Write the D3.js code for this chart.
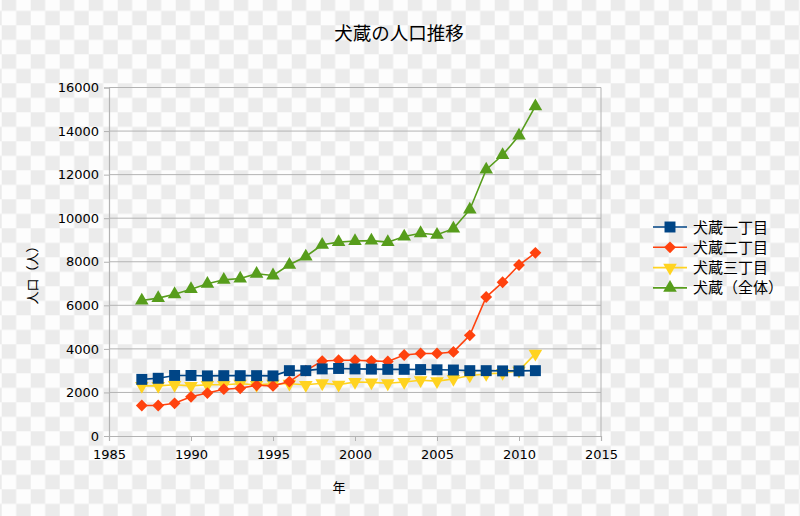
<!DOCTYPE html>
<html>
<head>
<meta charset="utf-8">
<script src="https://cdn.jsdelivr.net/npm/d3@7"></script>
<style>
    body { margin: 0; padding: 0; }
    svg { display: block; }
</style>
</head>
<body>
<div id="chart"></div>
<script>
// データ（年ごとの人口）
var years = [1987, 1988, 1989, 1990, 1991, 1992, 1993, 1994, 1995, 1996, 1997, 1998, 1999,
    2000, 2001, 2002, 2003, 2004, 2005, 2006, 2007, 2008, 2009, 2010, 2011];
var itchome = [2600, 2650, 2780, 2780, 2760, 2770, 2770, 2770, 2760, 3000, 3000, 3080, 3100,
    3080, 3070, 3060, 3060, 3050, 3040, 3030, 3000, 3000, 2990, 2990, 3000];
var nichome = [1400, 1400, 1500, 1800, 1970, 2150, 2190, 2330, 2300, 2500, 3000, 3440, 3480,
    3480, 3450, 3420, 3720, 3790, 3790, 3860, 4620, 6380, 7060, 7850, 8410];
var sanchome = [2300, 2300, 2350, 2300, 2350, 2350, 2400, 2350, 2400, 2400, 2350, 2420, 2360,
    2480, 2460, 2420, 2480, 2560, 2520, 2620, 2780, 2850, 2900, 3000, 3780];
var zentai = [6220, 6330, 6510, 6740, 6990, 7170, 7230, 7450, 7370, 7860, 8240, 8780, 8900,
    8950, 8970, 8900, 9160, 9310, 9240, 9520, 10390, 12230, 12900, 13790, 15140];
var seriesNames = ["犬蔵一丁目", "犬蔵二丁目", "犬蔵三丁目", "犬蔵（全体）"];
var xTicks = [1985, 1990, 1995, 2000, 2005, 2010, 2015];
var yTicks = [0, 2000, 4000, 6000, 8000, 10000, 12000, 14000, 16000];

var width = 800, height = 516;
var plotL = 109, plotR = 601, plotT = 87.5, plotB = 436;
var font = "'DejaVu Sans', sans-serif";
var cjk = "'Noto Sans CJK JP', sans-serif";

var series = [
    {name: seriesNames[0], values: itchome, color: "#004586", symbol: d3.symbolSquare, size: 120, rot: 0},
    {name: seriesNames[1], values: nichome, color: "#ff420e", symbol: d3.symbolSquare, size: 70, rot: 45},
    {name: seriesNames[2], values: sanchome, color: "#ffd320", symbol: d3.symbolTriangle, size: 80, rot: 180},
    {name: seriesNames[3], values: zentai, color: "#579d1c", symbol: d3.symbolTriangle, size: 80, rot: 0}
];

var svg = d3.select("#chart").append("svg")
    .attr("width", width).attr("height", height);

// 背景の市松模様
var cell = 14.5;
var pat = svg.append("defs").append("pattern")
    .attr("id", "checker").attr("patternUnits", "userSpaceOnUse")
    .attr("x", 1.7).attr("y", -3.7)
    .attr("width", cell * 2).attr("height", cell * 2);
pat.append("rect").attr("width", cell * 2).attr("height", cell * 2).attr("fill", "#fdfdfd");
pat.append("rect").attr("width", cell).attr("height", cell).attr("fill", "#ebebeb");
pat.append("rect").attr("x", cell).attr("y", cell).attr("width", cell).attr("height", cell).attr("fill", "#ebebeb");
svg.append("rect").attr("width", width).attr("height", height).attr("fill", "url(#checker)");

var x = d3.scaleLinear().domain([1985, 2015]).range([plotL, plotR]);
var y = d3.scaleLinear().domain([0, 16000]).range([plotB, plotT]);

// グリッド線
svg.append("g").selectAll("line").data(yTicks.slice(1)).enter().append("line")
    .attr("x1", plotL).attr("x2", plotR)
    .attr("y1", function (d) { return y(d); }).attr("y2", function (d) { return y(d); })
    .attr("stroke", "#b3b3b3").attr("stroke-width", 1);
svg.append("line").attr("x1", plotR).attr("x2", plotR).attr("y1", plotT).attr("y2", plotB)
    .attr("stroke", "#b3b3b3");

// 軸
var yAxis = svg.append("g").attr("transform", "translate(" + plotL + ",0)")
    .call(d3.axisLeft(y).tickValues(yTicks).tickSize(5).tickPadding(5).tickFormat(d3.format("d")));
var xAxis = svg.append("g").attr("transform", "translate(0," + plotB + ")")
    .call(d3.axisBottom(x).tickValues(xTicks).tickSize(5).tickPadding(9).tickFormat(d3.format("d")));
[xAxis, yAxis].forEach(function (g) {
    g.select(".domain").attr("stroke", "#b3b3b3").attr("stroke-width", 1.2);
    g.selectAll(".tick line").attr("stroke", "#b3b3b3");
    g.selectAll("text").attr("font-family", font).attr("font-size", 13).attr("fill", "#000");
});

// 折れ線とマーカー（一丁目が最前面）
var line = d3.line()
    .x(function (d, i) { return x(years[i]); })
    .y(function (d) { return y(d); });
series.slice().reverse().forEach(function (s) {
    var g = svg.append("g");
    g.append("path").datum(s.values).attr("d", line)
        .attr("fill", "none").attr("stroke", s.color).attr("stroke-width", 1.6);
    g.selectAll("path.m").data(s.values).enter().append("path").attr("class", "m")
        .attr("d", d3.symbol().type(s.symbol).size(s.size))
        .attr("transform", function (d, i) {
            return "translate(" + x(years[i]) + "," + y(d) + ") rotate(" + s.rot + ")";
        })
        .attr("fill", s.color);
});

// タイトル・軸ラベル
svg.append("text").attr("x", 399).attr("y", 40).attr("text-anchor", "middle")
    .attr("font-family", cjk).attr("font-size", 18.5).text("犬蔵の人口推移");
svg.append("text").attr("x", 339).attr("y", 492).attr("text-anchor", "middle")
    .attr("font-family", cjk).attr("font-size", 13).text("年");
svg.append("text").attr("transform", "translate(37,272) rotate(-90)").attr("text-anchor", "middle")
    .attr("font-family", cjk).attr("font-size", 13).text("人口（人）");

// 凡例
var legend = svg.append("g").attr("transform", "translate(653,227)");
series.forEach(function (s, i) {
    var row = legend.append("g").attr("transform", "translate(0," + (i * 20.3) + ")");
    row.append("line").attr("x1", 0).attr("x2", 34).attr("stroke", s.color).attr("stroke-width", 1.6);
    row.append("path").attr("d", d3.symbol().type(s.symbol).size(s.size))
        .attr("transform", "translate(17,0) rotate(" + s.rot + ")").attr("fill", s.color);
    row.append("text").attr("x", 40).attr("y", 5.5)
        .attr("font-family", cjk).attr("font-size", 15).text(s.name);
});
</script>
</body>
</html>
